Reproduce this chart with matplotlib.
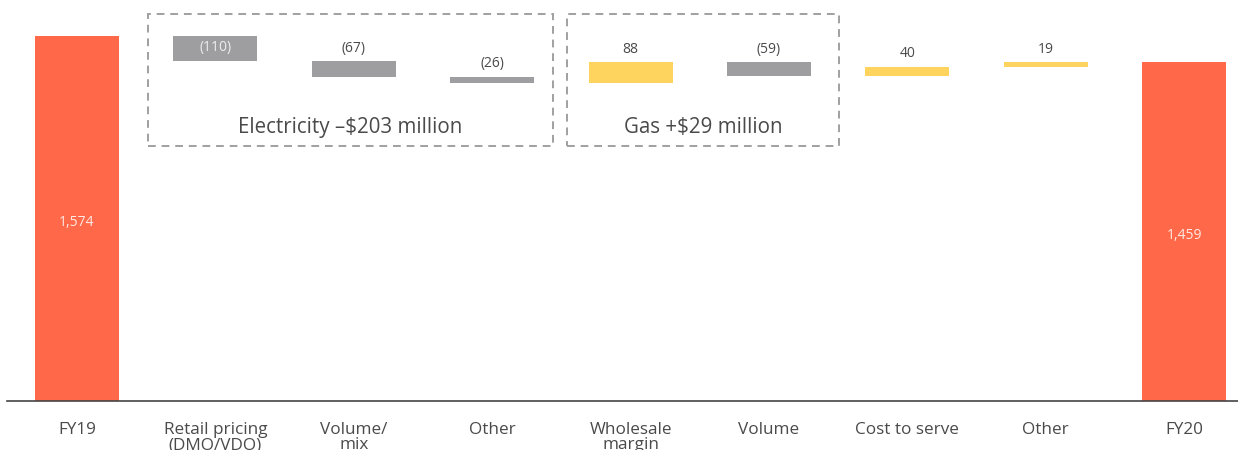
import matplotlib
matplotlib.use("Agg")
import matplotlib.pyplot as plt
from matplotlib.patches import Rectangle

plt.rcParams['font.family'] = ['Open Sans', 'DejaVu Sans']

categories = ["FY19", "Retail pricing\n(DMO/VDO)", "Volume/\nmix", "Other",
              "Wholesale\nmargin", "Volume", "Cost to serve", "Other", "FY20"]
start_value = 1574
changes = [-110, -67, -26, 88, -59, 40, 19]
end_value = 1459
value_labels = ["1,574", "(110)", "(67)", "(26)", "88", "(59)", "40", "19", "1,459"]
group_labels = ["Electricity \u2013$203 million", "Gas +$29 million"]

C_TOTAL = "#FF6849"
C_NEG = "#9E9EA1"
C_POS = "#FFD45E"
C_TEXT = "#4A4A4A"

fig = plt.figure(figsize=(12.38, 4.5), dpi=100)
ax = fig.add_axes([7/1238, 49/450, (1238-7)/1238, 401/450])

n = len(categories)
width = 0.607
ax.set_xlim(-0.506, 8.389)
ax.set_ylim(0, 1727.7)

# totals
ax.bar(0, start_value, width=width, color=C_TOTAL)
ax.bar(n-1, end_value, width=width, color=C_TOTAL)
for i, v, lab in [(0, start_value, value_labels[0]), (n-1, end_value, value_labels[-1])]:
    ax.annotate(lab, (i, v/2), xytext=(0, -3), textcoords='offset points',
                ha='center', va='center', color='#FFE9E2', fontsize=10)

level = start_value
for i, ch in enumerate(changes, start=1):
    bottom = level + min(ch, 0)
    color = C_POS if ch > 0 else C_NEG
    ax.bar(i, abs(ch), bottom=bottom, width=width, color=color)
    top = bottom + abs(ch)
    if i == 1:
        ax.text(i, bottom + abs(ch)/2 + 5, value_labels[i], ha='center', va='center',
                color='#EDEDED', fontsize=10)
    else:
        ax.annotate(value_labels[i], (i, top), xytext=(0, 4), textcoords='offset points',
                    ha='center', va='bottom', color=C_TEXT, fontsize=10)
    level += ch

# group boxes
boxes = [(0.513, 3.439), (3.540, 5.506)]
y0, y1 = 1098.7, 1667.0
for (x0, x1), lab in zip(boxes, group_labels):
    r = Rectangle((x0, y0), x1-x0, y1-y0, fill=False, edgecolor='#A0A0A0',
                  linestyle=(0, (4, 3)), linewidth=1.4, clip_on=False)
    ax.add_patch(r)
    ax.text((x0+x1)/2, 1177, lab, ha='center', va='center', color=C_TEXT, fontsize=14.8)

ax.set_xticks(range(n))
ax.set_xticklabels(categories, fontsize=12.3, color=C_TEXT, linespacing=0.95, va='top')
ax.tick_params(axis='x', length=0, pad=15)
ax.set_yticks([])
for s in ['top', 'right', 'left']:
    ax.spines[s].set_visible(False)
ax.spines['bottom'].set_color('#444444')
ax.spines['bottom'].set_linewidth(1.2)

fig.savefig("out.png", dpi=100)
